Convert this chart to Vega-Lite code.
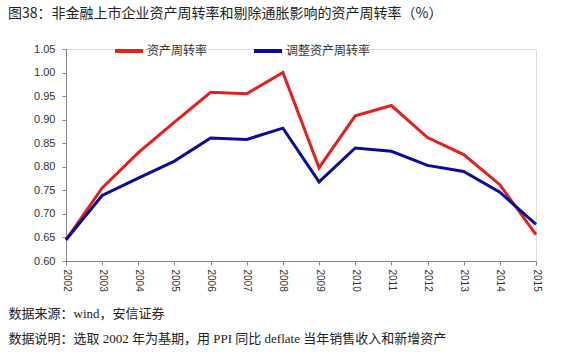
{
  "$schema": "https://vega.github.io/schema/vega-lite/v6.json",
  "width": 470,
  "height": 212,
  "autosize": {"type": "none"},
  "padding": {"left": 66, "top": 49, "right": 40, "bottom": 93},
  "background": "white",
  "title": {
    "text": "图38：非金融上市企业资产周转率和剔除通胀影响的资产周转率（%）",
    "anchor": "start",
    "frame": "group",
    "dx": -58,
    "offset": 14,
    "font": "Noto Sans CJK SC",
    "fontSize": 14,
    "fontWeight": "normal",
    "color": "#222"
  },
  "data": {
    "values": [
      {"year": "2002", "series": "资产周转率", "value": 0.645},
      {"year": "2003", "series": "资产周转率", "value": 0.755},
      {"year": "2004", "series": "资产周转率", "value": 0.83},
      {"year": "2005", "series": "资产周转率", "value": 0.895},
      {"year": "2006", "series": "资产周转率", "value": 0.958},
      {"year": "2007", "series": "资产周转率", "value": 0.955},
      {"year": "2008", "series": "资产周转率", "value": 1.0},
      {"year": "2009", "series": "资产周转率", "value": 0.798},
      {"year": "2010", "series": "资产周转率", "value": 0.908},
      {"year": "2011", "series": "资产周转率", "value": 0.93},
      {"year": "2012", "series": "资产周转率", "value": 0.862},
      {"year": "2013", "series": "资产周转率", "value": 0.826},
      {"year": "2014", "series": "资产周转率", "value": 0.762},
      {"year": "2015", "series": "资产周转率", "value": 0.656},
      {"year": "2002", "series": "调整资产周转率", "value": 0.645},
      {"year": "2003", "series": "调整资产周转率", "value": 0.739},
      {"year": "2004", "series": "调整资产周转率", "value": 0.776},
      {"year": "2005", "series": "调整资产周转率", "value": 0.812},
      {"year": "2006", "series": "调整资产周转率", "value": 0.861},
      {"year": "2007", "series": "调整资产周转率", "value": 0.858},
      {"year": "2008", "series": "调整资产周转率", "value": 0.882},
      {"year": "2009", "series": "调整资产周转率", "value": 0.768},
      {"year": "2010", "series": "调整资产周转率", "value": 0.84},
      {"year": "2011", "series": "调整资产周转率", "value": 0.833},
      {"year": "2012", "series": "调整资产周转率", "value": 0.803},
      {"year": "2013", "series": "调整资产周转率", "value": 0.79},
      {"year": "2014", "series": "调整资产周转率", "value": 0.746},
      {"year": "2015", "series": "调整资产周转率", "value": 0.678}
    ]
  },
  "mark": {"type": "line", "strokeWidth": 3, "clip": false},
  "encoding": {
    "x": {
      "field": "year",
      "type": "ordinal",
      "scale": {"type": "point", "padding": 0},
      "axis": {
        "labelAngle": 90,
        "labelAlign": "left",
        "labelBaseline": "middle",
        "labelFont": "Liberation Sans",
        "labelFontSize": 10,
        "labelColor": "#333",
        "labelPadding": 4,
        "tickSize": 4,
        "tickColor": "#888",
        "domainColor": "#888",
        "grid": false,
        "title": ["数据来源：wind，安信证券", "数据说明：选取 2002 年为基期，用 PPI 同比 deflate 当年销售收入和新增资产"],
        "titleFont": "Liberation Serif, Noto Sans CJK SC",
        "titleFontSize": 13,
        "titleFontWeight": "normal",
        "titleColor": "#222",
        "titleAlign": "left",
        "titleAnchor": "start",
        "titleBaseline": "alphabetic",
        "titleX": -58,
        "titleY": 56,
        "titleLineHeight": 25
      }
    },
    "y": {
      "field": "value",
      "type": "quantitative",
      "scale": {"domain": [0.6, 1.05], "nice": false, "zero": false},
      "axis": {
        "values": [0.6, 0.65, 0.7, 0.75, 0.8, 0.85, 0.9, 0.95, 1.0, 1.05],
        "format": ".2f",
        "labelFont": "Liberation Sans",
        "labelFontSize": 11,
        "labelColor": "#333",
        "labelPadding": 7,
        "tickSize": 4,
        "tickColor": "#888",
        "domainColor": "#888",
        "grid": false,
        "title": null
      }
    },
    "color": {
      "field": "series",
      "type": "nominal",
      "scale": {"domain": ["资产周转率", "调整资产周转率"], "range": ["#E3201C", "#0B0B99"]},
      "legend": {
        "title": null,
        "orient": "none",
        "direction": "horizontal",
        "legendX": 47,
        "legendY": -14,
        "symbolType": "stroke",
        "symbolStrokeWidth": 4,
        "symbolSize": 784,
        "labelFont": "Noto Sans CJK SC",
        "labelFontSize": 12,
        "labelColor": "#333",
        "labelOffset": 2,
        "columnPadding": 38
      }
    }
  }
}
